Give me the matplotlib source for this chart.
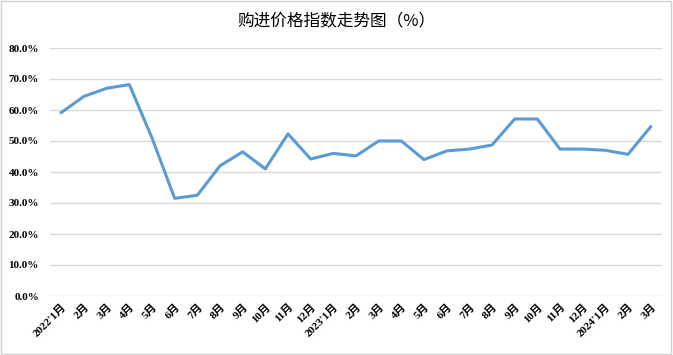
import matplotlib
matplotlib.use('Agg')
from matplotlib import pyplot as plt
from matplotlib.patches import Rectangle
from matplotlib.ticker import FuncFormatter

months = ["2022'1月", "2月", "3月", "4月", "5月", "6月", "7月", "8月", "9月", "10月", "11月", "12月",
          "2023'1月", "2月", "3月", "4月", "5月", "6月", "7月", "8月", "9月", "10月", "11月", "12月",
          "2024'1月", "2月", "3月"]
index_values = [59.2, 64.4, 67.0, 68.2, 51.0, 31.5, 32.5, 42.0, 46.5, 41.0, 52.3, 44.2,
                46.0, 45.2, 50.0, 50.0, 44.0, 46.8, 47.4, 48.7, 57.1, 57.1, 47.4, 47.4,
                47.0, 45.7, 54.6]
y_ticks = [0, 10, 20, 30, 40, 50, 60, 70, 80]

label_font = ['Liberation Serif', 'Noto Sans CJK SC']

fig = plt.figure(figsize=(6.73, 3.55), dpi=100)
ax = fig.add_axes([50 / 673, 1 - 296 / 355, 612 / 673, 248 / 355])

x = list(range(len(months)))
ax.plot(x, [v / 100 for v in index_values], color='#5B9BD5', linewidth=2.2, solid_joinstyle='round')

ax.set_xlim(-0.5, len(months) - 0.5)
ax.set_ylim(0, 0.8)
ax.set_yticks([t / 100 for t in y_ticks])
ax.yaxis.set_major_formatter(FuncFormatter(lambda v, p: '%.1f%%' % (v * 100)))
ax.grid(axis='y', color='#d9d9d9', linewidth=1)
ax.set_axisbelow(True)
for s in ax.spines.values():
    s.set_visible(False)
ax.tick_params(length=0)

ax.set_xticks(x)
ax.set_xticklabels(months, rotation=45, ha='right', rotation_mode='anchor',
                   family=label_font, fontweight='bold', fontsize=8)
for lab in ax.get_yticklabels():
    lab.set_family(label_font)
    lab.set_fontweight('bold')
    lab.set_fontsize(8)
ax.tick_params(axis='x', pad=4)
ax.tick_params(axis='y', pad=8)

fig.text(0.5, 1 - 22 / 355, '购进价格指数走势图（%）', ha='center', va='center',
         family=['Noto Sans CJK SC', 'DejaVu Sans'], fontsize=12)

fig.patches.append(Rectangle((0.002, 0.003), 0.995, 0.994, transform=fig.transFigure,
                             fill=False, edgecolor='#d0d0d0', linewidth=1))

fig.savefig('out.png', dpi=100)
